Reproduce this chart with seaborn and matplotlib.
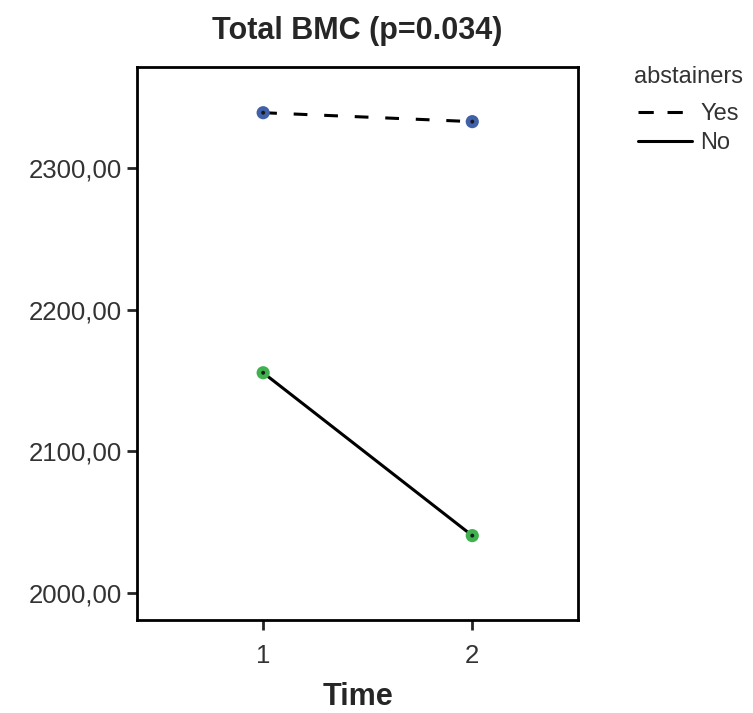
import matplotlib
matplotlib.use("Agg")
import matplotlib.pyplot as plt
import seaborn as sns
import pandas as pd
from matplotlib.lines import Line2D
from matplotlib.ticker import FuncFormatter

time = [1, 2]
yes_vals = [2338.8, 2332.5]
no_vals = [2155.5, 2040.7]
groups = ["Yes", "No"]

df = pd.DataFrame({
    "Time": time * 2,
    "BMC": yes_vals + no_vals,
    "abstainers": ["Yes"] * 2 + ["No"] * 2,
})

sns.set_style("ticks")
plt.rcParams["font.family"] = ["Liberation Sans", "DejaVu Sans"]

fig = plt.figure(figsize=(7.53, 7.13), dpi=100)
ax = fig.add_axes([0.182, 0.130, 0.586, 0.776])

sns.lineplot(data=df, x="Time", y="BMC", style="abstainers", style_order=groups,
             dashes={"Yes": (4.5, 5.5), "No": ""}, color="black", linewidth=2.2,
             ax=ax, legend=False)
sns.scatterplot(data=df, x="Time", y="BMC", hue="abstainers", hue_order=groups,
                palette={"Yes": "#4060a8", "No": "#3fb24f"}, s=90,
                edgecolor="none", ax=ax, legend=False, zorder=3)
sns.scatterplot(data=df, x="Time", y="BMC", color="#1a1a1a", s=8,
                edgecolor="none", ax=ax, legend=False, zorder=4)

ax.set_xlim(0.397, 2.507)
ax.set_ylim(1981, 2371)
ax.set_xticks(time)
ax.set_xticklabels([str(t) for t in time])
ax.set_yticks([2000, 2100, 2200, 2300])
ax.yaxis.set_major_formatter(FuncFormatter(lambda v, p: f"{v:.2f}".replace(".", ",")))
for s in ax.spines.values():
    s.set_linewidth(2)
    s.set_color("black")
ax.tick_params(axis="both", direction="out", length=7, width=2, labelsize=18.5,
               labelcolor="#333333")
ax.tick_params(axis="x", pad=10)
ax.tick_params(axis="y", pad=4)
ax.set_ylabel("")
ax.set_xlabel("Time", fontsize=22, fontweight="bold", labelpad=10)
ax.set_title("Total BMC (p=0.034)", fontsize=22, fontweight="bold", pad=20)

handles = [Line2D([0], [0], color="black", lw=2.2, ls=(0, (5, 4.5))),
           Line2D([0], [0], color="black", lw=2.2)]
leg = fig.legend(handles, groups, title="abstainers", loc="upper left",
                 bbox_to_anchor=(634 / 753, 1 - 66 / 713), frameon=False,
                 fontsize=17, title_fontsize=17, handlelength=2.3,
                 handletextpad=0.35, labelspacing=0.3, borderpad=0,
                 borderaxespad=0)
leg._legend_box.sep = 11
for t in leg.get_texts():
    t.set_color("#333333")
leg.get_title().set_color("#333333")

fig.savefig("out.png", dpi=100)
